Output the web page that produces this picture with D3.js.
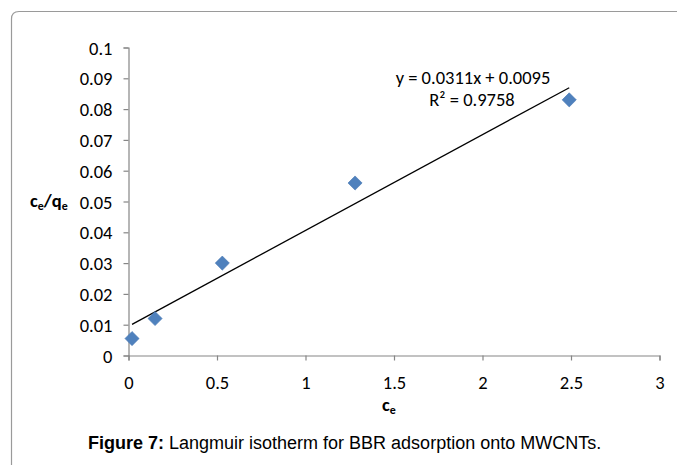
<!DOCTYPE html>
<html>
<head>
<meta charset="utf-8">
<script src="https://cdn.jsdelivr.net/npm/d3@7.9.0/dist/d3.min.js"></script>
<style>
  body { margin: 0; background: #fff; }
  svg { display: block; }
</style>
</head>
<body>
<div id="chart"></div>
<script>
// measured points (ce, ce/qe)
const ceValues = [0.02, 0.15, 0.53, 1.28, 2.49];
const ratioValues = [0.0055, 0.012, 0.030, 0.056, 0.083];
const xTicks = [0, 0.5, 1, 1.5, 2, 2.5, 3];
const yTicks = [0, 0.01, 0.02, 0.03, 0.04, 0.05, 0.06, 0.07, 0.08, 0.09, 0.1];
const slope = 0.0311, intercept = 0.0095;

const width = 677, height = 465;
const svg = d3.select('#chart').append('svg')
    .attr('width', width).attr('height', height);

// frame around the chart
svg.append('path')
    .attr('d', 'M11.5,465 L11.5,19 Q11.5,11.5 19,11.5 L677,11.5')
    .attr('fill', 'none')
    .attr('stroke', '#9a9a9a')
    .attr('stroke-width', 1.2);

const xScale = d3.scaleLinear().domain([0, 3]).range([128.5, 659.5]);
const yScale = d3.scaleLinear().domain([0, 0.1]).range([355.5, 47.5]);

const font = 'Calibri, Carlito, "Open Sans", sans-serif';
const fs = 18.5;

// x axis
const xAxis = svg.append('g')
    .attr('transform', `translate(0,${yScale(0)})`)
    .call(d3.axisBottom(xScale).tickValues(xTicks).tickSize(5).tickPadding(15)
        .tickFormat(d3.format('')));
// y axis
const yAxis = svg.append('g')
    .attr('transform', `translate(${xScale(0)},0)`)
    .call(d3.axisLeft(yScale).tickValues(yTicks).tickSize(5).tickPadding(11)
        .tickFormat(d => d === 0 ? '0' : d3.format('')(+d.toFixed(2))));

[xAxis, yAxis].forEach(a => {
  a.selectAll('.domain').attr('stroke', '#868686').attr('stroke-width', 1.2);
  a.selectAll('.tick line').attr('stroke', '#868686').attr('stroke-width', 1.2);
  a.selectAll('text').attr('font-family', font).attr('font-size', fs).attr('fill', '#000');
});
yAxis.selectAll('text').attr('dy', '0.36em');

// trend line from first to last x
const x0 = d3.min(ceValues), x1 = d3.max(ceValues);
svg.append('line')
    .attr('x1', xScale(x0)).attr('y1', yScale(slope * x0 + intercept))
    .attr('x2', xScale(x1)).attr('y2', yScale(slope * x1 + intercept))
    .attr('stroke', '#000').attr('stroke-width', 1.3);

// markers
svg.append('g').selectAll('path')
    .data(ceValues.map((c, i) => [c, ratioValues[i]]))
    .join('path')
    .attr('transform', d => `translate(${xScale(d[0])},${yScale(d[1])}) rotate(45)`)
    .attr('d', 'M-5,-5 L5,-5 L5,5 L-5,5 Z')
    .attr('fill', '#4f81bd')
    .attr('stroke', '#4a7ab5').attr('stroke-width', 0.6);

// equation labels
svg.append('text').attr('x', 473).attr('y', 84)
    .attr('text-anchor', 'middle').attr('font-family', font).attr('font-size', fs)
    .text('y = 0.0311x + 0.0095');
svg.append('text').attr('x', 472).attr('y', 105.5)
    .attr('text-anchor', 'middle').attr('font-family', font).attr('font-size', fs)
    .text('R² = 0.9758');

// axis titles
const yTitle = svg.append('text').attr('x', 30).attr('y', 207)
    .attr('font-family', font).attr('font-size', fs).attr('font-weight', 'bold');
yTitle.append('tspan').text('c');
yTitle.append('tspan').attr('font-size', 12).attr('dy', 3).text('e');
yTitle.append('tspan').attr('dy', -3).text('/q');
yTitle.append('tspan').attr('font-size', 12).attr('dy', 3).text('e');

const xTitle = svg.append('text').attr('x', 382).attr('y', 411)
    .attr('font-family', font).attr('font-size', fs).attr('font-weight', 'bold');
xTitle.append('tspan').text('c');
xTitle.append('tspan').attr('font-size', 12).attr('dy', 3).text('e');

// caption
const cap = svg.append('text').attr('x', 88).attr('y', 449)
    .attr('font-family', 'Arial, "Liberation Sans", sans-serif').attr('font-size', 18);
cap.append('tspan').attr('font-weight', 'bold').text('Figure 7:');
cap.append('tspan').text(' Langmuir isotherm for BBR adsorption onto MWCNTs.');
</script>
</body>
</html>
